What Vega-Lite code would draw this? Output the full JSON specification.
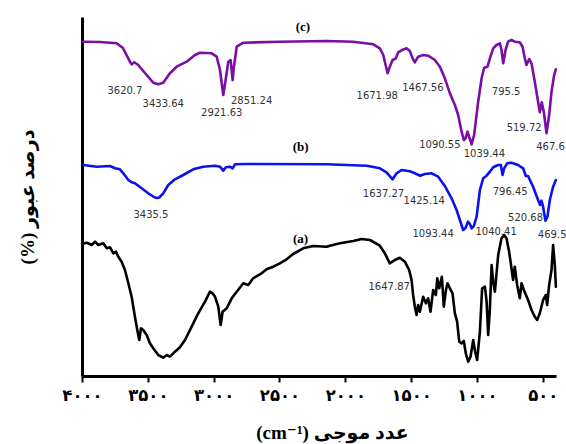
{
  "$schema": "https://vega.github.io/schema/vega-lite/v6.json",
  "width": 474,
  "height": 359,
  "autosize": {"type": "none"},
  "padding": {"left": 82, "top": 17, "right": 10, "bottom": 68},
  "background": "white",
  "config": {"view": {"stroke": null}, "axis": {"grid": false}},
  "datasets": {
    "spectra": [
      {"s":"c","w":3992,"t":334.3},{"s":"c","w":3863,"t":334},{"s":"c","w":3737,"t":332.7},{"s":"c","w":3689,"t":328},{"s":"c","w":3636,"t":314.3},{"s":"c","w":3623,"t":311.7},{"s":"c","w":3603,"t":313.7},{"s":"c","w":3573,"t":311},{"s":"c","w":3509,"t":301},{"s":"c","w":3459,"t":293.3},{"s":"c","w":3421,"t":291.7},{"s":"c","w":3383,"t":293.3},{"s":"c","w":3332,"t":302.7},{"s":"c","w":3281,"t":309.3},{"s":"c","w":3205,"t":314.3},{"s":"c","w":3142,"t":321},{"s":"c","w":3104,"t":323.3},{"s":"c","w":3015,"t":322.7},{"s":"c","w":2977,"t":319.3},{"s":"c","w":2952,"t":306},{"s":"c","w":2927,"t":281},{"s":"c","w":2909,"t":296},{"s":"c","w":2889,"t":314.3},{"s":"c","w":2871,"t":316},{"s":"c","w":2856,"t":296},{"s":"c","w":2846,"t":309.3},{"s":"c","w":2825,"t":329.3},{"s":"c","w":2775,"t":333.3},{"s":"c","w":2497,"t":334.3},{"s":"c","w":2142,"t":335},{"s":"c","w":1940,"t":334.3},{"s":"c","w":1788,"t":331.7},{"s":"c","w":1738,"t":327.7},{"s":"c","w":1712,"t":321},{"s":"c","w":1694,"t":311},{"s":"c","w":1679,"t":302.7},{"s":"c","w":1662,"t":309.3},{"s":"c","w":1641,"t":316},{"s":"c","w":1616,"t":317.7},{"s":"c","w":1599,"t":323.7},{"s":"c","w":1573,"t":325.7},{"s":"c","w":1535,"t":327.7},{"s":"c","w":1510,"t":325},{"s":"c","w":1489,"t":317.7},{"s":"c","w":1472,"t":313.7},{"s":"c","w":1447,"t":319.3},{"s":"c","w":1409,"t":321},{"s":"c","w":1371,"t":320.3},{"s":"c","w":1320,"t":316},{"s":"c","w":1282,"t":309.3},{"s":"c","w":1244,"t":297.7},{"s":"c","w":1206,"t":282.7},{"s":"c","w":1168,"t":271},{"s":"c","w":1143,"t":261},{"s":"c","w":1117,"t":244.3},{"s":"c","w":1100,"t":236},{"s":"c","w":1087,"t":237.7},{"s":"c","w":1072,"t":244.3},{"s":"c","w":1060,"t":239.3},{"s":"c","w":1041,"t":231.7},{"s":"c","w":1022,"t":241},{"s":"c","w":991,"t":274.3},{"s":"c","w":965,"t":297.7},{"s":"c","w":946,"t":308.3},{"s":"c","w":920,"t":309.3},{"s":"c","w":902,"t":317.7},{"s":"c","w":877,"t":327.7},{"s":"c","w":852,"t":331},{"s":"c","w":826,"t":332.7},{"s":"c","w":814,"t":326},{"s":"c","w":801,"t":312.7},{"s":"c","w":783,"t":326},{"s":"c","w":764,"t":334.3},{"s":"c","w":738,"t":336},{"s":"c","w":713,"t":334.3},{"s":"c","w":675,"t":333.7},{"s":"c","w":654,"t":329.3},{"s":"c","w":637,"t":317.7},{"s":"c","w":624,"t":311},{"s":"c","w":604,"t":317},{"s":"c","w":586,"t":312.7},{"s":"c","w":561,"t":294.3},{"s":"c","w":536,"t":274.3},{"s":"c","w":523,"t":263.7},{"s":"c","w":508,"t":273.7},{"s":"c","w":492,"t":263.7},{"s":"c","w":472,"t":242.7},{"s":"c","w":452,"t":261},{"s":"c","w":434,"t":284.3},{"s":"c","w":414,"t":301},{"s":"c","w":401,"t":306.7},
      {"s":"b","w":3990,"t":211},{"s":"b","w":3888,"t":209.3},{"s":"b","w":3787,"t":210},{"s":"b","w":3749,"t":207.7},{"s":"b","w":3712,"t":206.7},{"s":"b","w":3686,"t":202.7},{"s":"b","w":3648,"t":196},{"s":"b","w":3623,"t":193.7},{"s":"b","w":3598,"t":192.7},{"s":"b","w":3547,"t":187.7},{"s":"b","w":3497,"t":182.7},{"s":"b","w":3446,"t":178.5},{"s":"b","w":3430,"t":178},{"s":"b","w":3413,"t":178.5},{"s":"b","w":3383,"t":182.7},{"s":"b","w":3345,"t":191},{"s":"b","w":3294,"t":196.7},{"s":"b","w":3231,"t":201},{"s":"b","w":3155,"t":206.7},{"s":"b","w":3079,"t":209.3},{"s":"b","w":2990,"t":210.3},{"s":"b","w":2952,"t":209.3},{"s":"b","w":2927,"t":205.3},{"s":"b","w":2907,"t":208.7},{"s":"b","w":2876,"t":209.3},{"s":"b","w":2856,"t":207.7},{"s":"b","w":2838,"t":211.7},{"s":"b","w":2750,"t":212},{"s":"b","w":2142,"t":211.7},{"s":"b","w":1838,"t":210.3},{"s":"b","w":1738,"t":207.7},{"s":"b","w":1687,"t":203.7},{"s":"b","w":1641,"t":196.7},{"s":"b","w":1611,"t":202.7},{"s":"b","w":1573,"t":206},{"s":"b","w":1510,"t":204.7},{"s":"b","w":1472,"t":202.7},{"s":"b","w":1432,"t":200.3},{"s":"b","w":1396,"t":202},{"s":"b","w":1345,"t":202.7},{"s":"b","w":1295,"t":199.3},{"s":"b","w":1244,"t":190},{"s":"b","w":1193,"t":177.7},{"s":"b","w":1155,"t":166},{"s":"b","w":1130,"t":156},{"s":"b","w":1105,"t":146},{"s":"b","w":1087,"t":148},{"s":"b","w":1069,"t":154.3},{"s":"b","w":1054,"t":152},{"s":"b","w":1041,"t":147.7},{"s":"b","w":1024,"t":150},{"s":"b","w":1003,"t":159.3},{"s":"b","w":978,"t":186},{"s":"b","w":953,"t":197.7},{"s":"b","w":927,"t":200.3},{"s":"b","w":902,"t":204.3},{"s":"b","w":877,"t":208.7},{"s":"b","w":839,"t":211},{"s":"b","w":819,"t":211},{"s":"b","w":806,"t":201},{"s":"b","w":794,"t":207.7},{"s":"b","w":771,"t":212.7},{"s":"b","w":738,"t":213.3},{"s":"b","w":688,"t":211},{"s":"b","w":650,"t":207.7},{"s":"b","w":629,"t":200},{"s":"b","w":612,"t":200},{"s":"b","w":574,"t":189.3},{"s":"b","w":536,"t":176},{"s":"b","w":521,"t":171},{"s":"b","w":510,"t":175.3},{"s":"b","w":498,"t":169.3},{"s":"b","w":480,"t":155.3},{"s":"b","w":465,"t":159.3},{"s":"b","w":447,"t":176},{"s":"b","w":422,"t":189.3},{"s":"b","w":401,"t":196},
      {"s":"a","w":4000,"t":132},{"s":"a","w":3964,"t":133.3},{"s":"a","w":3926,"t":131},{"s":"a","w":3901,"t":134.3},{"s":"a","w":3876,"t":131},{"s":"a","w":3838,"t":132.7},{"s":"a","w":3812,"t":127.7},{"s":"a","w":3787,"t":128.7},{"s":"a","w":3762,"t":122.7},{"s":"a","w":3742,"t":124.3},{"s":"a","w":3724,"t":119.3},{"s":"a","w":3699,"t":114.3},{"s":"a","w":3674,"t":106},{"s":"a","w":3648,"t":92.7},{"s":"a","w":3623,"t":79.3},{"s":"a","w":3598,"t":59.3},{"s":"a","w":3580,"t":46},{"s":"a","w":3565,"t":36},{"s":"a","w":3552,"t":47.7},{"s":"a","w":3535,"t":46},{"s":"a","w":3509,"t":41},{"s":"a","w":3484,"t":32.7},{"s":"a","w":3459,"t":27.7},{"s":"a","w":3421,"t":21},{"s":"a","w":3383,"t":18.3},{"s":"a","w":3357,"t":21},{"s":"a","w":3332,"t":19.3},{"s":"a","w":3294,"t":24.3},{"s":"a","w":3256,"t":28.7},{"s":"a","w":3218,"t":36},{"s":"a","w":3167,"t":49.3},{"s":"a","w":3117,"t":62.7},{"s":"a","w":3066,"t":74.3},{"s":"a","w":3028,"t":84.3},{"s":"a","w":3008,"t":82.7},{"s":"a","w":2990,"t":79.3},{"s":"a","w":2965,"t":69.3},{"s":"a","w":2947,"t":51},{"s":"a","w":2932,"t":64.3},{"s":"a","w":2901,"t":67.7},{"s":"a","w":2863,"t":77.7},{"s":"a","w":2825,"t":84.3},{"s":"a","w":2775,"t":92.7},{"s":"a","w":2737,"t":91},{"s":"a","w":2700,"t":97.7},{"s":"a","w":2636,"t":102.7},{"s":"a","w":2598,"t":106.7},{"s":"a","w":2548,"t":109.3},{"s":"a","w":2497,"t":112.7},{"s":"a","w":2446,"t":116.7},{"s":"a","w":2396,"t":122},{"s":"a","w":2320,"t":127.7},{"s":"a","w":2244,"t":130},{"s":"a","w":2142,"t":129.3},{"s":"a","w":2117,"t":130.3},{"s":"a","w":2041,"t":132.7},{"s":"a","w":1940,"t":135},{"s":"a","w":1877,"t":137},{"s":"a","w":1813,"t":136},{"s":"a","w":1738,"t":130.3},{"s":"a","w":1700,"t":122.7},{"s":"a","w":1662,"t":112.7},{"s":"a","w":1624,"t":116},{"s":"a","w":1586,"t":118.3},{"s":"a","w":1548,"t":114.3},{"s":"a","w":1515,"t":106},{"s":"a","w":1497,"t":96},{"s":"a","w":1485,"t":81},{"s":"a","w":1472,"t":69.3},{"s":"a","w":1459,"t":61},{"s":"a","w":1447,"t":71},{"s":"a","w":1434,"t":64.3},{"s":"a","w":1409,"t":79.3},{"s":"a","w":1388,"t":72.7},{"s":"a","w":1371,"t":77.7},{"s":"a","w":1353,"t":64.3},{"s":"a","w":1333,"t":86},{"s":"a","w":1312,"t":81},{"s":"a","w":1302,"t":97.7},{"s":"a","w":1287,"t":87.7},{"s":"a","w":1267,"t":99.3},{"s":"a","w":1252,"t":69.3},{"s":"a","w":1236,"t":86},{"s":"a","w":1224,"t":92.7},{"s":"a","w":1206,"t":87.7},{"s":"a","w":1186,"t":82.7},{"s":"a","w":1168,"t":62.7},{"s":"a","w":1151,"t":54.3},{"s":"a","w":1135,"t":34.3},{"s":"a","w":1117,"t":32.7},{"s":"a","w":1100,"t":35},{"s":"a","w":1085,"t":22.7},{"s":"a","w":1067,"t":14.3},{"s":"a","w":1049,"t":19.3},{"s":"a","w":1029,"t":36},{"s":"a","w":1014,"t":24.3},{"s":"a","w":999,"t":16},{"s":"a","w":978,"t":44.3},{"s":"a","w":961,"t":87.7},{"s":"a","w":940,"t":89.3},{"s":"a","w":927,"t":74.3},{"s":"a","w":915,"t":41},{"s":"a","w":902,"t":67.7},{"s":"a","w":889,"t":111},{"s":"a","w":877,"t":94.3},{"s":"a","w":864,"t":84.3},{"s":"a","w":839,"t":121},{"s":"a","w":814,"t":137.7},{"s":"a","w":794,"t":141},{"s":"a","w":776,"t":137.7},{"s":"a","w":756,"t":124.3},{"s":"a","w":738,"t":107.7},{"s":"a","w":726,"t":96},{"s":"a","w":713,"t":109.3},{"s":"a","w":695,"t":91},{"s":"a","w":675,"t":77.7},{"s":"a","w":662,"t":92.7},{"s":"a","w":644,"t":86},{"s":"a","w":612,"t":76},{"s":"a","w":586,"t":66},{"s":"a","w":561,"t":59.3},{"s":"a","w":543,"t":56},{"s":"a","w":523,"t":62.7},{"s":"a","w":498,"t":76},{"s":"a","w":477,"t":81},{"s":"a","w":467,"t":71},{"s":"a","w":452,"t":91},{"s":"a","w":434,"t":106},{"s":"a","w":422,"t":131},{"s":"a","w":409,"t":111},{"s":"a","w":401,"t":89.3}
    ],
    "peaks": [
      {"label":"3620.7","w":3674,"t":285},{"label":"3433.64","w":3383,"t":272},{"label":"2921.63","w":2939,"t":262.7},{"label":"2851.24","w":2712,"t":275.3},{"label":"1671.98","w":1758,"t":280.3},{"label":"1467.56","w":1411,"t":287.7},{"label":"1090.55","w":1282,"t":231},{"label":"1039.44","w":944,"t":222},{"label":"795.5","w":779,"t":284.3},{"label":"519.72","w":642,"t":248.3},{"label":"467.6","w":442,"t":229.3},
      {"label":"3435.5","w":3476,"t":161},{"label":"1637.27","w":1710,"t":181.7},{"label":"1425.14","w":1401,"t":175.3},{"label":"1093.44","w":1333,"t":141.7},{"label":"1040.41","w":855,"t":143.7},{"label":"796.45","w":748,"t":184.3},{"label":"520.68","w":631,"t":157.7},{"label":"469.5","w":429,"t":141},
      {"label":"1647.87","w":1667,"t":88.7}
    ],
    "names": [
      {"label":"(c)","w":2322,"t":349},{"label":"(b)","w":2340,"t":229},{"label":"(a)","w":2340,"t":137}
    ]
  },
  "encoding": {
    "x": {
      "field": "w", "type": "quantitative",
      "scale": {"domain": [4000, 400], "nice": false, "zero": false},
      "axis": {
        "values": [4000, 3500, 3000, 2500, 2000, 1500, 1000, 500],
        "labelExpr": "datum.value == 4000 ? '۴۰۰۰' : datum.value == 3500 ? '۳۵۰۰' : datum.value == 3000 ? '۳۰۰۰' : datum.value == 2500 ? '۲۵۰۰' : datum.value == 2000 ? '۲۰۰۰' : datum.value == 1500 ? '۱۵۰۰' : datum.value == 1000 ? '۱۰۰۰' : '۵۰۰'",
        "labelFont": "DejaVu Sans", "labelFontWeight": "bold", "labelFontSize": 16.5, "labelColor": "black",
        "labelPadding": 5, "labelFlush": false, "labelOverlap": false,
        "tickColor": "black", "tickWidth": 2, "tickSize": 6,
        "domainColor": "black", "domainWidth": 3,
        "title": "(cm⁻¹) عدد موجی",
        "titleFont": "Liberation Serif, DejaVu Sans", "titleFontSize": 19, "titleFontWeight": "bold", "titleColor": "black",
        "titlePadding": 20, "titleX": 250
      }
    },
    "y": {
      "field": "t", "type": "quantitative",
      "scale": {"domain": [0, 359], "nice": false, "zero": false},
      "axis": {
        "labels": false, "ticks": false,
        "domainColor": "black", "domainWidth": 3,
        "title": "(%) درصد عبور",
        "titleFont": "Liberation Serif, DejaVu Sans", "titleFontSize": 19, "titleFontWeight": "bold", "titleColor": "black",
        "titlePadding": 45
      }
    }
  },
  "layer": [
    {
      "data": {"name": "spectra"},
      "mark": {"type": "line", "strokeWidth": 2.6, "strokeJoin": "round", "strokeCap": "round"},
      "encoding": {
        "color": {"field": "s", "type": "nominal", "scale": {"domain": ["a", "b", "c"], "range": ["#000000", "#0b12f0", "#7a0ea5"]}, "legend": null}
      }
    },
    {
      "data": {"name": "peaks"},
      "mark": {"type": "text", "font": "DejaVu Sans", "fontSize": 10, "color": "#333333", "align": "center", "baseline": "middle"},
      "encoding": {"text": {"field": "label"}}
    },
    {
      "data": {"name": "names"},
      "mark": {"type": "text", "font": "Liberation Serif", "fontSize": 13, "fontWeight": "bold", "color": "black", "align": "center", "baseline": "middle"},
      "encoding": {"text": {"field": "label"}}
    }
  ]
}
